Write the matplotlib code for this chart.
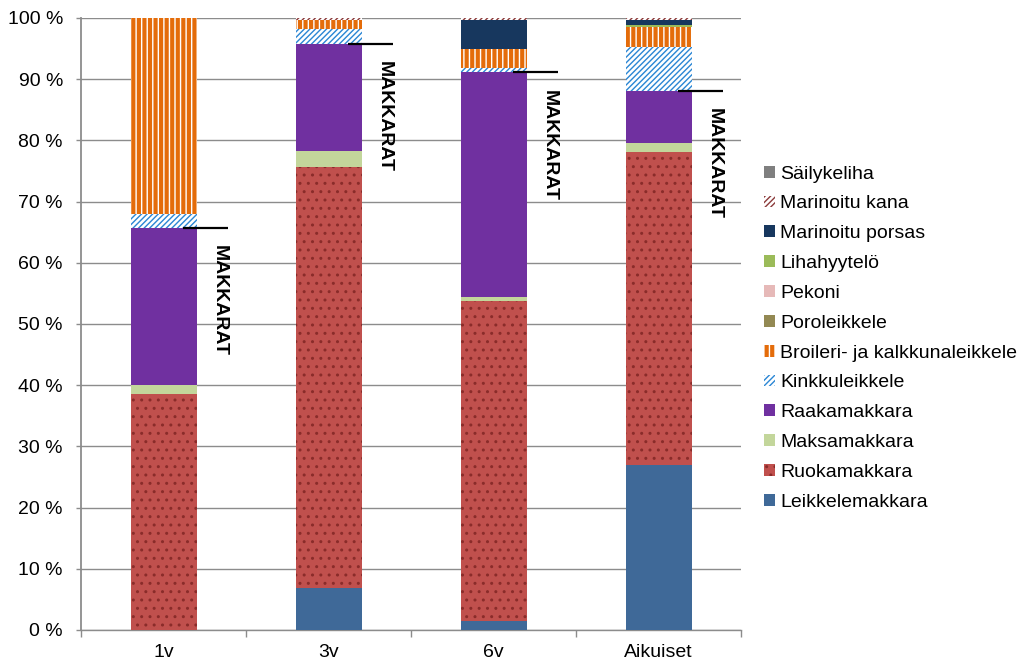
import matplotlib
matplotlib.use("Agg")
import matplotlib.pyplot as plt
from matplotlib.ticker import FixedLocator, FuncFormatter
import numpy as np

plt.rcParams['font.family'] = ['Liberation Sans', 'DejaVu Sans']
plt.rcParams['hatch.linewidth'] = 1.0

categories = ['1v', '3v', '6v', 'Aikuiset']

leikkelemakkara = [0.0, 6.8, 1.5, 27.0]
ruokamakkara = [38.6, 68.8, 52.3, 51.1]
maksamakkara = [1.4, 2.6, 0.6, 1.5]
raakamakkara = [25.7, 17.6, 36.7, 8.5]
kinkkuleikkele = [2.2, 2.4, 0.7, 7.2]
broileri = [32.1, 1.4, 3.2, 3.3]
poroleikkele = [0.0, 0.0, 0.0, 0.0]
pekoni = [0.0, 0.0, 0.0, 0.0]
lihahyytelo = [0.0, 0.0, 0.0, 0.2]
marinoitu_porsas = [0.0, 0.0, 4.7, 0.8]
marinoitu_kana = [0.0, 0.4, 0.3, 0.4]
sailykeliha = [0.0, 0.0, 0.0, 0.0]

series_names = ['Leikkelemakkara', 'Ruokamakkara', 'Maksamakkara', 'Raakamakkara',
                'Kinkkuleikkele', 'Broileri- ja kalkkunaleikkele', 'Poroleikkele',
                'Pekoni', 'Lihahyytelö', 'Marinoitu porsas', 'Marinoitu kana',
                'Säilykeliha']
series_values = [leikkelemakkara, ruokamakkara, maksamakkara, raakamakkara,
                 kinkkuleikkele, broileri, poroleikkele, pekoni, lihahyytelo,
                 marinoitu_porsas, marinoitu_kana, sailykeliha]

sausage_label = 'MAKKARAT'
y_ticks = [0, 10, 20, 30, 40, 50, 60, 70, 80, 90, 100]

# (facecolor, hatch colour, hatch)
styles = [
    ('#3f6998', '#3f6998', None),
    ('#c0504d', '#8a2c2a', '..'),
    ('#c3d69b', '#c3d69b', None),
    ('#7030a0', '#7030a0', None),
    ('white', '#2a86d4', '//////'),
    ('#e46c0a', 'white', '|||'),
    ('#938953', '#938953', None),
    ('#e6b9b8', '#e6b9b8', None),
    ('#9bbb59', '#9bbb59', None),
    ('#17375e', '#17375e', None),
    ('white', '#8b3a3a', '//////'),
    ('#7f7f7f', '#7f7f7f', None),
]

fig = plt.figure(figsize=(10.22, 6.63), dpi=100)
ax = fig.add_axes([0.0793, 0.0498, 0.646, 0.9231])

x = np.arange(len(categories))
bottom = np.zeros(len(categories))
handles = []
for name, vals, (fc, hc, hatch) in zip(series_names, series_values, styles):
    vals = np.array(vals)
    bars = ax.bar(x, vals, width=0.4, bottom=bottom, color=fc,
                  edgecolor=hc, linewidth=0, hatch=hatch, label=name, zorder=3)
    handles.append(bars)
    bottom = bottom + vals

# Marker for the sausage subtotal of each bar
sausage_top = (np.array(leikkelemakkara) + np.array(ruokamakkara)
               + np.array(maksamakkara) + np.array(raakamakkara))
for xi, top in zip(x, sausage_top):
    ax.plot([xi + 0.115, xi + 0.39], [top, top], color='black', lw=1.6,
            zorder=4, solid_capstyle='butt')
    ax.text(xi + 0.335, top - 2.8, sausage_label, rotation=270, ha='center',
            va='top', fontsize=14, fontweight='bold', color='black', zorder=5)

ax.set_xlim(-0.5, len(categories) - 0.5)
ax.set_ylim(0, 100)
ax.yaxis.set_major_locator(FixedLocator(y_ticks))
ax.yaxis.set_major_formatter(FuncFormatter(lambda v, p: f'{int(v)} %'))
ax.grid(axis='y', color='#8c8c8c', lw=1.0, zorder=0)
ax.set_axisbelow(True)

ax.set_xticks(x)
ax.set_xticklabels(categories)
ax.set_xticks(np.arange(-0.5, len(categories)), minor=True)
ax.tick_params(axis='x', which='major', length=0, labelsize=14, pad=10)
ax.tick_params(axis='x', which='minor', length=5, color='#8c8c8c', width=1.0)
ax.tick_params(axis='y', length=3.6, color='#8c8c8c', width=1.0, labelsize=14, pad=9.4)

for side in ['top', 'right']:
    ax.spines[side].set_visible(False)
ax.spines['left'].set_color('#8c8c8c')
ax.spines['left'].set_linewidth(1.3)
ax.spines['bottom'].set_color('#8c8c8c')
ax.spines['bottom'].set_linewidth(1.0)

fig.legend(handles[::-1], series_names[::-1], loc='center left',
           bbox_to_anchor=(0.738, 0.49), frameon=False, fontsize=14,
           handlelength=0.55, handleheight=0.55, handletextpad=0.3,
           labelspacing=0.66, borderpad=0)

fig.savefig('out.png', dpi=100)
